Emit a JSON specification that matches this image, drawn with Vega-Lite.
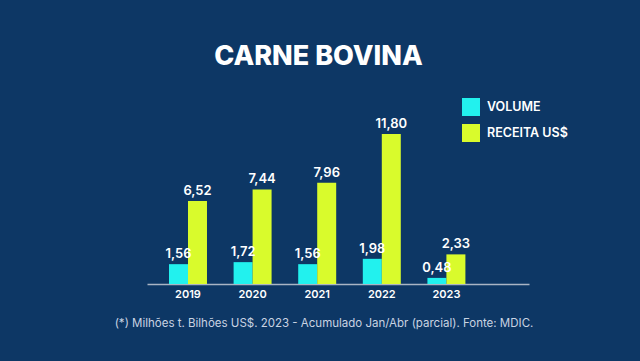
{
  "$schema": "https://vega.github.io/schema/vega-lite/v6.json",
  "width": 382,
  "height": 170,
  "autosize": {"type": "none"},
  "padding": {"left": 147, "top": 114, "right": 111, "bottom": 77},
  "background": "#0d3765",
  "title": {
    "text": "CARNE BOVINA",
    "anchor": "middle",
    "dx": -19.5,
    "offset": 6,
    "baseline": "alphabetic",
    "font": "Inter",
    "fontSize": 27,
    "fontWeight": 800,
    "color": "#ffffff"
  },
  "data": {
    "values": [
      {"ano": "2019", "serie": "VOLUME", "valor": 1.56},
      {"ano": "2019", "serie": "RECEITA US$", "valor": 6.52},
      {"ano": "2020", "serie": "VOLUME", "valor": 1.72},
      {"ano": "2020", "serie": "RECEITA US$", "valor": 7.44},
      {"ano": "2021", "serie": "VOLUME", "valor": 1.56},
      {"ano": "2021", "serie": "RECEITA US$", "valor": 7.96},
      {"ano": "2022", "serie": "VOLUME", "valor": 1.98},
      {"ano": "2022", "serie": "RECEITA US$", "valor": 11.80},
      {"ano": "2023", "serie": "VOLUME", "valor": 0.48},
      {"ano": "2023", "serie": "RECEITA US$", "valor": 2.33}
    ]
  },
  "encoding": {
    "x": {
      "field": "ano",
      "type": "nominal",
      "scale": {"paddingInner": 0.412, "paddingOuter": 0.6625, "align": 0.257},
      "axis": {
        "title": "(*) Milhões t. Bilhões US$. 2023 - Acumulado Jan/Abr (parcial). Fonte: MDIC.",
        "titleX": 176.5,
        "titleAnchor": "middle",
        "titleAlign": "center",
        "titlePadding": 18,
        "titleFont": "Inter",
        "titleFontSize": 11.5,
        "titleFontWeight": 400,
        "titleColor": "#c9d3e2",
        "labelAngle": 0,
        "labelFont": "Inter",
        "labelFontSize": 11,
        "labelFontWeight": 600,
        "labelColor": "#ffffff",
        "labelPadding": 4,
        "ticks": false,
        "domainColor": "#a9b4c4",
        "domainWidth": 1.5,
        "grid": false
      }
    },
    "xOffset": {"field": "serie", "type": "nominal", "sort": ["VOLUME", "RECEITA US$"], "scale": {"paddingInner": 0, "paddingOuter": 0}},
    "y": {
      "field": "valor",
      "type": "quantitative",
      "scale": {"domain": [0, 13.37], "nice": false},
      "axis": null
    }
  },
  "layer": [
    {
      "mark": {"type": "bar", "cornerRadius": 0},
      "encoding": {
        "color": {
          "field": "serie",
          "type": "nominal",
          "sort": ["VOLUME", "RECEITA US$"],
          "scale": {"domain": ["VOLUME", "RECEITA US$"], "range": ["#22f1ee", "#d9fb2c"]},
          "legend": {
            "title": null,
            "orient": "none",
            "legendX": 315,
            "legendY": -16,
            "padding": 0,
            "symbolType": "square",
            "symbolSize": 324,
            "symbolStrokeWidth": 0,
            "symbolOpacity": 1,
            "rowPadding": 8,
            "labelOffset": 7,
            "labelFont": "Inter",
            "labelFontSize": 12.5,
            "labelFontWeight": 600,
            "labelColor": "#ffffff"
          }
        }
      }
    },
    {
      "mark": {"type": "text", "dy": -6, "baseline": "alphabetic", "align": "center", "font": "Inter", "fontSize": 13, "fontWeight": 600, "color": "#ffffff"},
      "encoding": {
        "text": {"field": "valor", "type": "quantitative", "format": ".2f"}
      }
    }
  ],
  "config": {
    "view": {"stroke": null},
    "locale": {"number": {"decimal": ",", "thousands": ".", "grouping": [3], "currency": ["R$", ""]}}
  }
}
